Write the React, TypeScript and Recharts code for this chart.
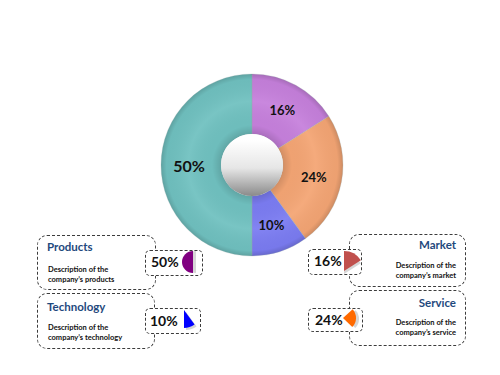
import { PieChart, Pie, Cell } from 'recharts';

// donut order, clockwise from 12 o'clock
const categories = ['Market', 'Service', 'Technology', 'Products'];
const shares = [16, 24, 10, 50];
const descriptions = [
    ['Description of the', 'company\u2019s market'],
    ['Description of the', 'company\u2019s service'],
    ['Description of the', 'company\u2019s technology'],
    ['Description of the', 'company\u2019s products'],
];

const donutColors = ['#c680dc', '#f4a574', '#7b7cf2', '#70c1c0'];
const iconColors = ['#c0504d', '#ff6a00', '#0000ff', '#800080'];

const FONT = 'Lato, "Open Sans", sans-serif';

// card layout per category (same order as categories)
const cards = [
    { side: 'right', box: [349, 234, 117, 53], pct: [308, 249, 54, 26], titleY: 245, descY: 261, pctX: 314, pctY: 261,
      icon: { cx: 344, cy: 271, r: 20, start: 90, end: -270, dx: 0, dy: 3 } },
    { side: 'right', box: [349, 290, 117, 56], pct: [308, 308, 55, 24], titleY: 303, descY: 318, pctX: 315, pctY: 320,
      icon: { cx: 343, cy: 318, r: 13, start: 42, end: -318, dx: 3, dy: 1 } },
    { side: 'left', box: [37, 293, 118, 56], pct: [145, 308, 56, 26], titleY: 307, descY: 323, pctX: 150, pctY: 321,
      icon: { cx: 184, cy: 310, r: 18, start: -90, end: 270, dx: 2, dy: 2 } },
    { side: 'left', box: [37, 235, 119, 55], pct: [145, 250, 58, 26], titleY: 247, descY: 265, pctX: 151, pctY: 262,
      icon: { cx: 193, cy: 262, r: 11, start: 90, end: 450, dx: 3, dy: 0 } },
];

const donutData = categories.map((name, i) => ({ name, value: shares[i] }));

function Box({ rect, radius, white }: { rect: number[]; radius: number; white?: boolean }) {
    const [left, top, width, height] = rect;
    return (
        <div style={{
            position: 'absolute', left, top, width, height, boxSizing: 'border-box',
            border: '1px dashed #3c3c3c', borderRadius: radius,
            background: white ? '#fff' : 'transparent',
        }} />
    );
}

function renderLabel(props: any) {
    const { cx, cy, midAngle, value } = props;
    const RAD = Math.PI / 180;
    const r = 63;
    const x = cx + r * Math.cos(-midAngle * RAD);
    const y = cy + r * Math.sin(-midAngle * RAD);
    return (
        <text x={x} y={y} textAnchor="middle" dominantBaseline="central"
            fontFamily={FONT} fontWeight="bold" fontSize={value >= 50 ? 16 : 13} fill="#111">
            {value}%
        </text>
    );
}

export default function App() {
    return (
        <div style={{ position: 'absolute', left: 0, top: 0, width: 500, height: 375, background: '#fff', fontFamily: FONT }}>
            {cards.map((c, i) => <Box key={'b' + i} rect={c.box} radius={10} />)}
            {cards.map((c, i) => <Box key={'p' + i} rect={c.pct} radius={5} white />)}

            {cards.map((c, i) => (
                <div key={'t' + i}>
                    <div style={{
                        position: 'absolute', top: c.titleY - 7, lineHeight: '14px', fontSize: 11.5, fontWeight: 'bold',
                        color: '#1f497d', ...(c.side === 'left' ? { left: 47 } : { right: 44, textAlign: 'right' }),
                    }}>
                        {categories[i]}
                    </div>
                    <div style={{
                        position: 'absolute', top: c.descY, lineHeight: '10px', fontSize: 7.5, fontWeight: 'bold',
                        color: '#111', ...(c.side === 'left' ? { left: 48 } : { right: 44, textAlign: 'right' }),
                    }}>
                        {descriptions[i].map((d) => <div key={d}>{d}</div>)}
                    </div>
                    <div style={{
                        position: 'absolute', left: c.pctX, top: c.pctY - 9, lineHeight: '18px', fontSize: 14,
                        fontWeight: 'bold', color: '#111',
                    }}>
                        {shares[i]}%
                    </div>
                </div>
            ))}

            <div style={{ position: 'absolute', left: 0, top: 0 }}>
                <PieChart width={500} height={375} margin={{ top: 0, right: 0, bottom: 0, left: 0 }}>
                    <defs>
                        <radialGradient id="shade" cx={252} cy={165} r={91} gradientUnits="userSpaceOnUse">
                            <stop offset="0.34" stopColor="#000" stopOpacity={0.14} />
                            <stop offset="0.44" stopColor="#000" stopOpacity={0.02} />
                            <stop offset="0.7" stopColor="#fff" stopOpacity={0.06} />
                            <stop offset="0.94" stopColor="#000" stopOpacity={0.03} />
                            <stop offset="1" stopColor="#000" stopOpacity={0.16} />
                        </radialGradient>
                        <linearGradient id="hole" x1="0" y1="0" x2="0" y2="1">
                            <stop offset="0.1" stopColor="#ffffff" />
                            <stop offset="0.55" stopColor="#e6e6e6" />
                            <stop offset="1" stopColor="#8a8a8a" />
                        </linearGradient>
                    </defs>
                    <Pie data={donutData} dataKey="value" cx={252} cy={165} innerRadius={31} outerRadius={91}
                        startAngle={90} endAngle={-270} stroke="none" isAnimationActive={false}
                        labelLine={false}>
                        {donutData.map((d, i) => <Cell key={d.name} fill={donutColors[i]} />)}
                    </Pie>
                    <Pie data={donutData} dataKey="value" cx={252} cy={165} innerRadius={31} outerRadius={91}
                        startAngle={90} endAngle={-270} stroke="#9aa" strokeOpacity={0.25} fill="url(#shade)"
                        isAnimationActive={false} labelLine={false} label={renderLabel} />
                    <Pie data={[{ name: 'hole', value: 1 }]} dataKey="value" cx={252} cy={165} outerRadius={31}
                        stroke="none" fill="url(#hole)" isAnimationActive={false} />

                    {cards.map((c, i) => {
                        const data = [{ name: categories[i], value: shares[i] }, { name: 'rest', value: 100 - shares[i] }];
                        const ic = c.icon;
                        return [
                            <Pie key={'s' + i} data={data} dataKey="value" cx={ic.cx + ic.dx} cy={ic.cy + ic.dy}
                                outerRadius={ic.r} startAngle={ic.start} endAngle={ic.end} stroke="none"
                                isAnimationActive={false}>
                                <Cell fill="#d6d6d6" />
                                <Cell fill="none" />
                            </Pie>,
                            <Pie key={'i' + i} data={data} dataKey="value" cx={ic.cx} cy={ic.cy}
                                outerRadius={ic.r} startAngle={ic.start} endAngle={ic.end} stroke="none"
                                isAnimationActive={false}>
                                <Cell fill={iconColors[i]} />
                                <Cell fill="none" />
                            </Pie>,
                        ];
                    })}
                </PieChart>
            </div>
        </div>
    );
}
